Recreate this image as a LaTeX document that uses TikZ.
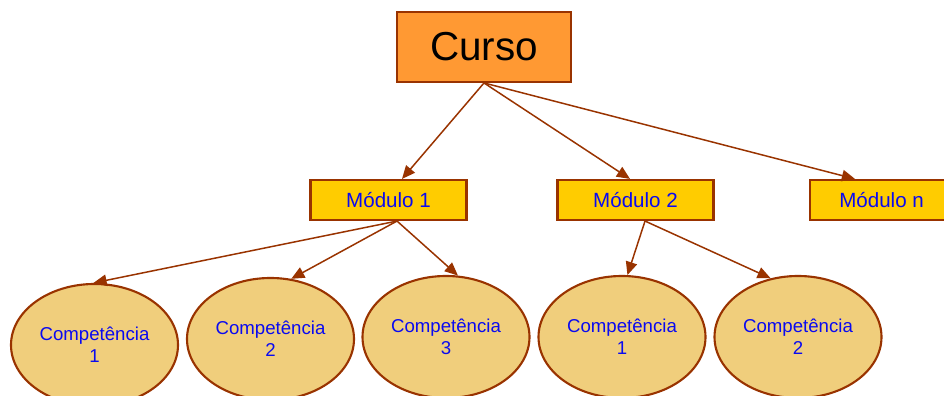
\documentclass[tikz,border=0pt]{standalone}
\usepackage{fontspec}
\setmainfont{Liberation Sans}
\usetikzlibrary{shapes.geometric,arrows.meta}
\definecolor{CursoLaranja}{RGB}{255, 153, 51}
\definecolor{ModuloAmarelo}{RGB}{255, 204, 0}
\definecolor{CompBege}{RGB}{240, 206, 124}
\definecolor{Marrom}{RGB}{153, 51, 0}
\definecolor{TextoAzul}{RGB}{10, 10, 240}

\begin{document}
\begin{tikzpicture}[
		curso/.style={draw=Marrom, line width=1.1pt, fill=CursoLaranja, minimum width=3.48cm, minimum height=1.40cm, inner sep=0pt, font=\fontsize{23}{26}\selectfont},
		modulo/.style={draw=Marrom, line width=1.2pt, fill=ModuloAmarelo, minimum width=3.12cm, minimum height=0.80cm, inner sep=0pt, text=TextoAzul, font=\fontsize{11.7}{14}\selectfont},
		comp/.style={ellipse, draw=Marrom, line width=1.2pt, fill=CompBege, minimum width=3.34cm, minimum height=2.44cm, inner sep=0pt, align=center, text=TextoAzul, font=\fontsize{10.6}{12.5}\selectfont},
		seta/.style={draw=Marrom, line width=0.85pt, -{Triangle[length=7.5pt, width=6.5pt]}}
	]
		\useasboundingbox (0, 0) rectangle (18.88, 7.92);
		\clip (0, 0) rectangle (18.88, 7.92);
		\node[curso] (curso) at (9.68, 6.98) {Curso};
		\node[modulo] (m1) at (7.77, 3.92) {Módulo 1};
		\node[modulo] (m2) at (12.71, 3.92) {Módulo 2};
		\node[modulo, anchor=west] (mn) at (16.18, 3.92) {\hspace{-0.26cm}Módulo n};
		\foreach \nome/\x/\y/\num in {c1/1.89/1.02/1, c2/5.41/1.14/2, c3/8.92/1.18/3, c4/12.44/1.18/1, c5/15.96/1.18/2}{
			\node[comp] (\nome) at (\x, \y) {Competência\\\num};
		}
		\draw[seta] (curso.south) -- ([xshift=0.27cm]m1.north);
		\draw[seta] (curso.south) -- ([xshift=-0.11cm]m2.north);
		\draw[seta] (curso.south) -- ([xshift=0.92cm]mn.north west);
		\foreach \alvo/\ang in {c1/91, c2/71, c3/79}{
			\draw[seta] ([xshift=0.17cm]m1.south) -- (\alvo.\ang);
		}
		\foreach \alvo/\ang in {c4/85, c5/115}{
			\draw[seta] ([xshift=0.19cm]m2.south) -- (\alvo.\ang);
		}
	\end{tikzpicture}
\end{document}
